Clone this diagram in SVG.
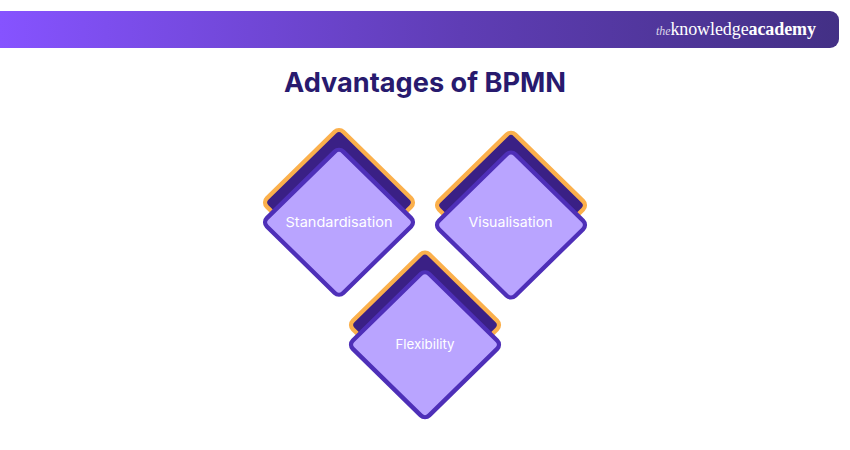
<svg xmlns="http://www.w3.org/2000/svg" width="850" height="450" viewBox="0 0 850 450">
<style>
.bk{fill:#3a2085;stroke:#fbb04c;stroke-width:4.4}
.fr{fill:#b9a4ff;stroke:#4e2fb8;stroke-width:4.4}
.lb{font-family:"Inter","Liberation Sans",sans-serif;font-size:13.5px;fill:#fff;text-anchor:middle}
.logo{font-family:"Liberation Serif",serif;fill:#fff;font-size:18px}
</style>
<defs>
<linearGradient id="hdr" x1="0" y1="0" x2="1" y2="0"><stop offset="0" stop-color="#8653ff"/><stop offset="0.55" stop-color="#5f3db5"/><stop offset="1" stop-color="#433085"/></linearGradient>
<rect id="d" x="-54" y="-54" width="108" height="108" rx="6" transform="scale(1,0.98) rotate(45)"/>
</defs>
<rect width="850" height="450" fill="#fff"/>
<g id="header">
<path d="M0 11H830a9 9 0 0 1 9 9V39a9 9 0 0 1-9 9H0Z" fill="url(#hdr)"/>
<text class="logo" x="656" y="35" textLength="160" lengthAdjust="spacing"><tspan font-size="12" font-style="italic" fill-opacity="0.8">the</tspan><tspan>knowledge</tspan><tspan font-weight="700">academy</tspan></text>
</g>
<text id="title" x="425" y="92" font-family="Inter,'Liberation Sans',sans-serif" font-size="27px" font-weight="700" fill="#281a6e" text-anchor="middle" textLength="282" lengthAdjust="spacingAndGlyphs">Advantages of BPMN</text>
<g id="node-standardisation">
<use href="#d" class="bk" x="339" y="202.5"/>
<use href="#d" class="fr" x="339" y="222.3"/>
<text class="lb" x="339" y="227" textLength="107" lengthAdjust="spacingAndGlyphs">Standardisation</text>
</g>
<g id="node-visualisation">
<use href="#d" class="bk" x="511" y="205.3"/>
<use href="#d" class="fr" x="511" y="225"/>
<text class="lb" x="510.5" y="227" textLength="84" lengthAdjust="spacingAndGlyphs">Visualisation</text>
</g>
<g id="node-flexibility">
<use href="#d" class="bk" x="425" y="325"/>
<use href="#d" class="fr" x="425" y="344.7"/>
<text class="lb" x="425" y="349" textLength="59" lengthAdjust="spacingAndGlyphs">Flexibility</text>
</g>
<g id="connectors"></g>
</svg>
